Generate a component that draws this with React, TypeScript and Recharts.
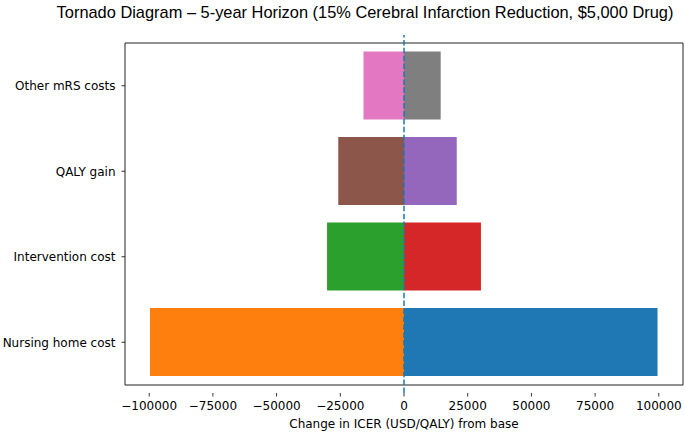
import React from "react"
import {
  BarChart,
  Bar,
  Cell,
  XAxis,
  YAxis,
  ReferenceLine,
  ReferenceArea,
} from "recharts"

// Factors listed top to bottom
const factors = ["Other mRS costs", "QALY gain", "Intervention cost", "Nursing home cost"]
// ICER change at the low and high end of each factor's range
const lowValues = [-15900, -25800, -30200, -99700]
const highValues = [14400, 20700, 30200, 99500]
const lowColors = ["#e377c2", "#8c564b", "#2ca02c", "#ff7f0e"]
const highColors = ["#7f7f7f", "#9467bd", "#d62728", "#1f77b4"]
const xTicks = [-100000, -75000, -50000, -25000, 0, 25000, 50000, 75000, 100000]

const X_MIN = -109500
const X_MAX = 109500

const data = factors.map((name, i) => ({ name, low: lowValues[i], high: highValues[i] }))

const tickFont = { fontFamily: "DejaVu Sans", fontSize: 12, fill: "#000" }
const fmt = (v: number) => (v < 0 ? "\u2212" + Math.abs(v) : String(v))

export default function App() {
  return (
    <div style={{ position: "absolute", left: 0, top: 0, width: 685, height: 433, background: "#fff" }}>
      <div
        style={{
          position: "absolute",
          left: 0,
          width: 730,
          top: 3,
          textAlign: "center",
          fontFamily: "Liberation Sans",
          fontSize: 16.4,
          color: "#000",
          whiteSpace: "nowrap",
        }}
      >
        Tornado Diagram – 5-year Horizon (15% Cerebral Infarction Reduction, $5,000 Drug)
      </div>
      <BarChart
        width={685}
        height={433}
        data={data}
        layout="vertical"
        stackOffset="sign"
        barCategoryGap="10%"
        margin={{ top: 35, right: 2, bottom: 0, left: 0 }}
      >
        <XAxis
          type="number"
          domain={[X_MIN, X_MAX]}
          ticks={xTicks}
          tickFormatter={fmt}
          allowDataOverflow
          height={40}
          tickSize={3.5}
          tickMargin={5}
          tick={tickFont}
          axisLine={false}
          tickLine={{ stroke: "#000", strokeWidth: 0.8 }}
          label={{
            value: "Change in ICER (USD/QALY) from base",
            position: "insideBottom",
            offset: 5,
            style: { fontFamily: "DejaVu Sans", fontSize: 12, fill: "#000" },
          }}
        />
        <YAxis
          type="category"
          dataKey="name"
          width={125}
          padding={{ top: 8, bottom: 8 }}
          tickSize={3.5}
          tickMargin={6}
          tick={tickFont}
          axisLine={false}
          tickLine={{ stroke: "#000", strokeWidth: 0.8 }}
        />
        <Bar dataKey="low" stackId="t" isAnimationActive={false}>
          {data.map((d, i) => (
            <Cell key={d.name} fill={lowColors[i]} />
          ))}
        </Bar>
        <Bar dataKey="high" stackId="t" isAnimationActive={false}>
          {data.map((d, i) => (
            <Cell key={d.name} fill={highColors[i]} />
          ))}
        </Bar>
        <ReferenceLine x={0} stroke="#1f77b4" strokeWidth={1.5} strokeDasharray="5.5 2.4" />
        {/* axes frame */}
        <ReferenceArea x1={X_MIN} x2={X_MAX} fill="none" fillOpacity={0} stroke="#222" strokeWidth={1} />
      </BarChart>
    </div>
  )
}
